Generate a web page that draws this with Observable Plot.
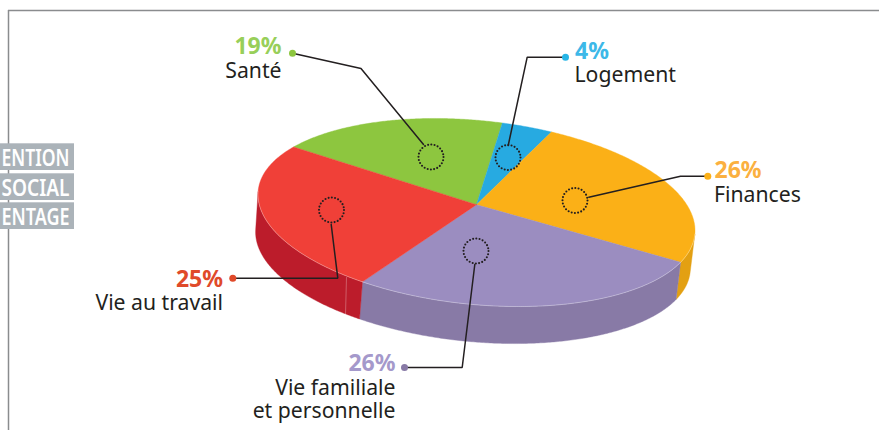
<!DOCTYPE html>
<html lang="fr">
<head>
<meta charset="utf-8">
<style>html,body{margin:0;padding:0;background:#fff}</style>
<script src="https://cdn.jsdelivr.net/npm/d3@7"></script>
<script src="https://cdn.jsdelivr.net/npm/@observablehq/plot@0.6"></script>
</head>
<body>
<div id="chart"></div>
<script>
// Data
const categories = ["Santé", "Logement", "Finances", "Vie familiale et personnelle", "Vie au travail"];
const shares = [19, 4, 26, 26, 25];
const topColors = ["#8DC63F", "#27AAE1", "#FBB017", "#9B8DC0", "#F04038"];
const sideColors = ["#6F9E32", "#1F88B4", "#E3A012", "#887AA6", "#BC1C2B"];

// View of the tilted disc
const view = {cx: 476, cy: 212, a: 218.5, skew: 18, b: 92.3, persp: 0.085, start: -151, dx: -3.5, dy: 37.5, scale: 0.995};

// Annotations (in picture units)
const labelLines = [
  {t: "19%", x: 281, y: 53, c: "#98CF59", b: true, anchor: "end"},
  {t: "Santé", x: 281, y: 77, c: "#231F20", anchor: "end"},
  {t: "4%", x: 574.5, y: 58, c: "#3DB8E8", b: true, anchor: "start"},
  {t: "Logement", x: 574, y: 81.5, c: "#231F20", anchor: "start"},
  {t: "26%", x: 714, y: 177.5, c: "#FBB040", b: true, anchor: "start"},
  {t: "Finances", x: 713.5, y: 201.5, c: "#231F20", anchor: "start"},
  {t: "25%", x: 222.5, y: 286, c: "#E04A2A", b: true, anchor: "end"},
  {t: "Vie au travail", x: 222.5, y: 309.5, c: "#231F20", anchor: "end"},
  {t: "26%", x: 395, y: 370, c: "#A599CB", b: true, anchor: "end"},
  {t: "Vie familiale", x: 395, y: 394, c: "#231F20", anchor: "end"},
  {t: "et personnelle", x: 395, y: 417.5, c: "#231F20", anchor: "end"}
];
const leaders = [
  {dot: "#8DC63F", pts: [[292, 52.7], [360.5, 68], [423, 144]], ring: [430.5, 156.5]},
  {dot: "#27B5E6", pts: [[565, 56.7], [526.7, 56.7], [507.7, 145]], ring: [507.5, 157]},
  {dot: "#FBB017", pts: [[707.3, 175.7], [680, 175.7], [588.3, 196.7]], ring: [574.5, 200]},
  {dot: "#887AA6", pts: [[404, 367], [461.7, 367], [474.3, 264]], ring: [475.5, 250.5]},
  {dot: "#E04A2A", pts: [[232.3, 277.7], [337.3, 277.7], [330.7, 224]], ring: [331, 209.5]}
];
const tags = [
  {t: "ENTION", y1: 143.3, y2: 170},
  {t: "SOCIAL", y1: 173.3, y2: 200},
  {t: "ENTAGE", y1: 202.3, y2: 229}
];

// Geometry from shares
function rim(deg, bottom) {
  const f = deg * Math.PI / 180, c = Math.cos(f), s = Math.sin(f), r = view.persp;
  const d = 1 - r * s;
  const C = c * Math.sqrt(1 - r * r) / d, S = (s - r) / d;
  const k = bottom ? view.scale : 1;
  return {
    x: view.cx + k * view.a * C + (bottom ? view.dx : 0),
    y: view.cy + k * (view.skew * C + view.b * S) + (bottom ? view.dy : 0)
  };
}
// a rim point is on the visible wall when its tangent turns away from the extrusion
function facesViewer(deg) {
  const p = rim(deg - 0.25, false), q = rim(deg + 0.25, false);
  return (q.x - p.x) * view.dy - (q.y - p.y) * view.dx < 0;
}
const apex = {x: view.cx, y: view.cy - view.persp * view.b};
const total = d3.sum(shares);
let acc = view.start;
const slices = shares.map((v, i) => {
  const from = acc, to = acc + v / total * 360;
  acc = to;
  const arc = d3.range(from, to, 0.5).concat([to]);
  const seen = arc.filter(facesViewer);
  return {
    name: categories[i], top: topColors[i], side: sideColors[i],
    face: [apex, ...arc.map(a => rim(a, false)), apex],
    wall: [...seen.map(a => rim(a, false)), ...seen.slice().reverse().map(a => rim(a, true))],
    edge: seen.map(a => rim(a, false))
  };
});
const xy = {x: "x", y: "y", curve: "linear"};
const P = ([x, y]) => ({x, y});
const bodyFont = "'Noto Sans', sans-serif";

const textLines = ["start", "end"].flatMap(anchor => [true, false].map(bold =>
  Plot.text(labelLines.filter(d => d.anchor === anchor && !!d.b === bold), {
    x: "x", y: "y", text: "t", fill: d => d.c, textAnchor: anchor, lineAnchor: "bottom",
    fontSize: bold ? 23 : 21.2, fontWeight: bold ? 700 : 400, fontFamily: bodyFont
  })));

const chart = Plot.plot({
  width: 879, height: 430, margin: 0,
  x: {domain: [0, 879], range: [0, 879], axis: null},
  y: {domain: [0, 430], range: [0, 430], axis: null},
  style: {display: "block", background: "transparent"},
  marks: [
    Plot.ruleY([10], {x1: 8, x2: 879, stroke: "#8A8C8E", strokeWidth: 1.5}),
    Plot.ruleX([8], {y1: 10, y2: 430, stroke: "#8A8C8E", strokeWidth: 1.5}),
    Plot.rect(tags, {x1: () => 0, x2: () => 74, y1: "y1", y2: "y2", fill: "#ABB3B9"}),
    Plot.text(tags, {x: () => 69, y: d => d.y2 - 4.5, text: "t", textAnchor: "end", lineAnchor: "bottom",
      fill: "#fff", fontWeight: 600, fontSize: 23.5, fontFamily: bodyFont}),
    ...slices.filter(s => s.wall.length).map(s => Plot.line(s.wall.concat(s.wall[0]), {...xy, fill: s.side, stroke: s.side, strokeWidth: 0.4})),
    ...slices.map(s => Plot.line(s.face, {...xy, fill: s.top, stroke: s.top, strokeWidth: 0.4})),
    ...slices.filter(s => s.edge.length).map(s => Plot.line(s.edge, {...xy, stroke: "#fff", strokeOpacity: 0.45, strokeWidth: 0.7})),
    Plot.line([{x: 346, y: 277}, {x: 345, y: 314}], {...xy, stroke: "#fff", strokeOpacity: 0.4, strokeWidth: 0.7}),
    ...leaders.map(l => Plot.line(l.pts.map(P), {...xy, stroke: "#231F20", strokeWidth: 1.5, strokeLinejoin: "miter"})),
    Plot.dot(leaders, {x: d => d.pts[0][0], y: d => d.pts[0][1], r: 3.5, fill: d => d.dot, stroke: "none"}),
    Plot.dot(leaders, {x: d => d.ring[0], y: d => d.ring[1], r: 12.5, fill: "none", stroke: "#231F20",
      strokeWidth: 2.1, strokeDasharray: "0 3.27", strokeLinecap: "round"}),
    ...textLines
  ]
});
// the tag lettering is condensed in the reference: squeeze it into the box
const tagNames = new Set(tags.map(d => d.t));
d3.select(chart).selectAll("text")
  .filter(function () { return tagNames.has(this.textContent); })
  .attr("textLength", 68).attr("lengthAdjust", "spacingAndGlyphs");
document.getElementById("chart").append(chart);
</script>
</body>
</html>
